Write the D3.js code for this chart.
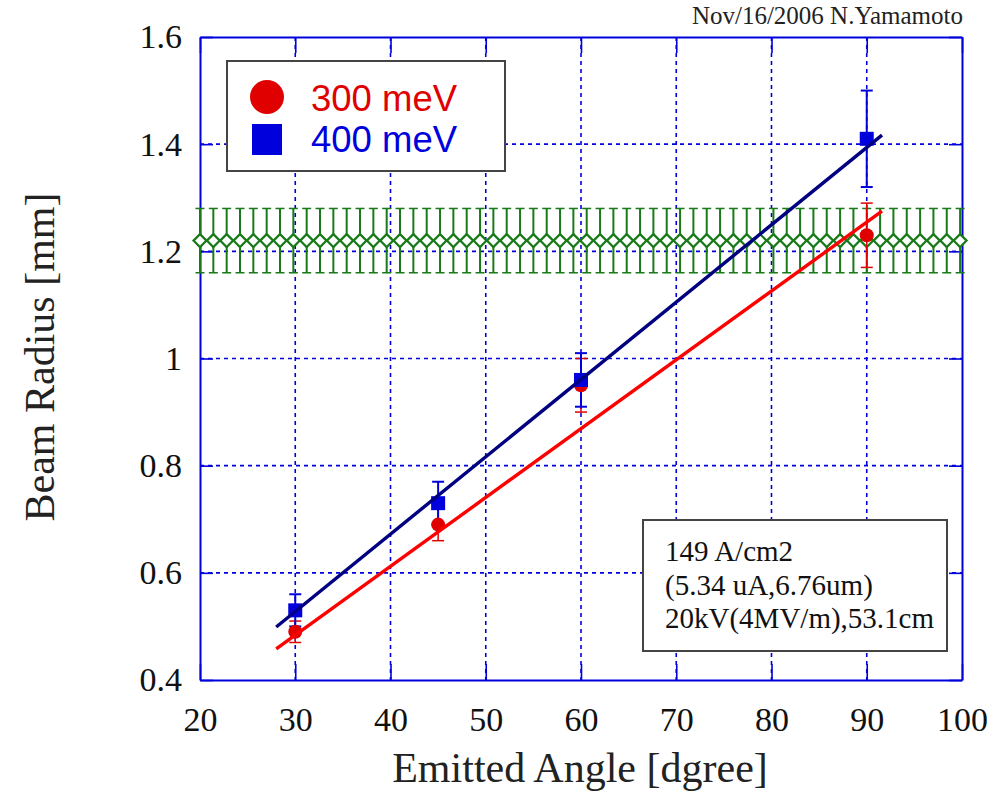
<!DOCTYPE html>
<html>
<head>
<meta charset="utf-8">
<script src="https://cdn.jsdelivr.net/npm/d3@7"></script>
<style>
  body { margin: 0; background: #fff; }
  text { font-family: "Liberation Serif", "Times New Roman", serif; }
</style>
</head>
<body>
<svg id="chart"></svg>
<script>
var width = 1005,
    height = 791

// 300 meV
var angles300 = [30, 45, 60, 90];
var radius300 = [0.49, 0.69, 0.95, 1.23];
var err300 = [0.02, 0.03, 0.05, 0.06];

// 400 meV
var angles400 = [30, 45, 60, 90];
var radius400 = [0.53, 0.73, 0.96, 1.41];
var err400 = [0.03, 0.04, 0.05, 0.09];

// fit lines (end points)
var fit300 = [[28, 0.458], [91.6, 1.275]];
var fit400 = [[28, 0.499], [91.6, 1.417]];

// green reference band
var refAngles = [20, 21.4, 22.8, 24.2, 25.6, 27, 28.4, 29.8, 31.2, 32.6, 34, 35.4, 36.8, 38.2,
    39.6, 41, 42.4, 43.8, 45.2, 46.6, 48, 49.4, 50.8, 52.2, 53.6, 55, 56.4, 57.8, 59.2, 60.6,
    62, 63.4, 64.8, 66.2, 67.6, 69, 70.4, 71.8, 73.2, 74.6, 76, 77.4, 78.8, 80.2, 81.6, 83,
    84.4, 85.8, 87.2, 88.6, 90, 91.4, 92.8, 94.2, 95.6, 97, 98.4, 99.8];
var refRadius = 1.22;
var refErr = 0.06;

var xTicks = [20, 30, 40, 50, 60, 70, 80, 90, 100];
var yTicks = [0.4, 0.6, 0.8, 1, 1.2, 1.4, 1.6];
var yTickLabels = ["0.4", "0.6", "0.8", "1", "1.2", "1.4", "1.6"];

var legendItems = ["300 meV", "400 meV"];
var noteLines = ["149 A/cm2", "(5.34 uA,6.76um)", "20kV(4MV/m),53.1cm"];

var blue = "#0000dd", red = "#e00000", green = "#187a18";

var svg = d3.select("svg#chart")
    .attr("width", width)
    .attr("height", height);

var x = d3.scaleLinear().domain([20, 100]).range([200, 962]);
var y = d3.scaleLinear().domain([0.4, 1.6]).range([680, 37]);

// grid
svg.append("g").selectAll("line")
    .data(xTicks.slice(1, -1))
    .enter().append("line")
    .attr("x1", function(d){ return x(d) }).attr("x2", function(d){ return x(d) })
    .attr("y1", y(1.6)).attr("y2", y(0.4))
    .attr("stroke", blue).attr("stroke-width", 1.6)
    .attr("stroke-dasharray", "4,4");

svg.append("g").selectAll("line")
    .data(yTicks.slice(1, -1))
    .enter().append("line")
    .attr("y1", function(d){ return y(d) }).attr("y2", function(d){ return y(d) })
    .attr("x1", x(20)).attr("x2", x(100))
    .attr("stroke", blue).attr("stroke-width", 1.6)
    .attr("stroke-dasharray", "4,4");

// axes
function styleAxis(g) {
    g.select(".domain").attr("stroke", blue).attr("stroke-width", 2);
    g.selectAll(".tick line").attr("stroke", blue).attr("stroke-width", 1.6);
    g.selectAll(".tick text").attr("fill", "#111").style("font-size", "34px")
        .style("font-family", "Liberation Serif, serif");
}

svg.append("g")
    .attr("transform", "translate(0," + y(0.4) + ")")
    .call(d3.axisBottom(x).tickValues(xTicks).tickSize(-16).tickSizeOuter(0).tickPadding(20))
    .call(styleAxis)
    .selectAll(".tick text").attr("dy", "0.9em");

svg.append("g")
    .attr("transform", "translate(0," + y(1.6) + ")")
    .call(d3.axisTop(x).tickValues(xTicks).tickSize(-16).tickSizeOuter(0).tickFormat(""))
    .call(styleAxis);

svg.append("g")
    .attr("transform", "translate(" + x(20) + ",0)")
    .call(d3.axisLeft(y).tickValues(yTicks).tickSize(-13).tickSizeOuter(0).tickPadding(18)
        .tickFormat(function(d, i){ return yTickLabels[i] }))
    .call(styleAxis);

svg.append("g")
    .attr("transform", "translate(" + x(100) + ",0)")
    .call(d3.axisRight(y).tickValues(yTicks).tickSize(-13).tickSizeOuter(0).tickFormat(""))
    .call(styleAxis);

// green reference band
var ref = svg.append("g").selectAll("g")
    .data(refAngles)
    .enter().append("g")
    .attr("transform", function(d){ return "translate(" + x(d) + ",0)" });

ref.append("line")
    .attr("y1", y(refRadius - refErr)).attr("y2", y(refRadius + refErr))
    .attr("stroke", green).attr("stroke-width", 2);
ref.append("line")
    .attr("x1", -4.5).attr("x2", 4.5)
    .attr("y1", y(refRadius + refErr)).attr("y2", y(refRadius + refErr))
    .attr("stroke", green).attr("stroke-width", 1.5);
ref.append("line")
    .attr("x1", -4.5).attr("x2", 4.5)
    .attr("y1", y(refRadius - refErr)).attr("y2", y(refRadius - refErr))
    .attr("stroke", green).attr("stroke-width", 1.5);
ref.append("path")
    .attr("d", function(){
        var c = y(refRadius);
        return "M-6.5," + c + "L0," + (c - 6.5) + "L6.5," + c + "L0," + (c + 6.5) + "Z";
    })
    .attr("fill", "#fff").attr("stroke", green).attr("stroke-width", 2.2);

// error bars + markers
function errorBars(angles, vals, errs, color, w) {
    var g = svg.append("g").selectAll("g")
        .data(angles)
        .enter().append("g")
        .attr("transform", function(d){ return "translate(" + x(d) + ",0)" });
    g.append("line")
        .attr("y1", function(d, i){ return y(vals[i] - errs[i]) })
        .attr("y2", function(d, i){ return y(vals[i] + errs[i]) })
        .attr("stroke", color).attr("stroke-width", w);
    g.append("line")
        .attr("x1", -6).attr("x2", 6)
        .attr("y1", function(d, i){ return y(vals[i] + errs[i]) })
        .attr("y2", function(d, i){ return y(vals[i] + errs[i]) })
        .attr("stroke", color).attr("stroke-width", w);
    g.append("line")
        .attr("x1", -6).attr("x2", 6)
        .attr("y1", function(d, i){ return y(vals[i] - errs[i]) })
        .attr("y2", function(d, i){ return y(vals[i] - errs[i]) })
        .attr("stroke", color).attr("stroke-width", w);
}

errorBars(angles300, radius300, err300, red, 1.5);
errorBars(angles400, radius400, err400, blue, 2);

svg.append("g").selectAll("circle")
    .data(angles300)
    .enter().append("circle")
    .attr("cx", function(d){ return x(d) })
    .attr("cy", function(d, i){ return y(radius300[i]) })
    .attr("r", 7)
    .attr("fill", red);

svg.append("g").selectAll("rect")
    .data(angles400)
    .enter().append("rect")
    .attr("x", function(d){ return x(d) - 7 })
    .attr("y", function(d, i){ return y(radius400[i]) - 7 })
    .attr("width", 14).attr("height", 14)
    .attr("fill", blue);

// fit lines
var line = d3.line()
    .x(function(d){ return x(d[0]) })
    .y(function(d){ return y(d[1]) });

svg.append("path").datum(fit300)
    .attr("d", line).attr("fill", "none")
    .attr("stroke", "#ff0000").attr("stroke-width", 3.4);

svg.append("path").datum(fit400)
    .attr("d", line).attr("fill", "none")
    .attr("stroke", "#000080").attr("stroke-width", 3.4);

// legend
var legend = svg.append("g");
legend.append("rect")
    .attr("x", 227).attr("y", 61).attr("width", 278).attr("height", 110)
    .attr("fill", "#fff").attr("stroke", "#444").attr("stroke-width", 2);
legend.append("circle")
    .attr("cx", 267).attr("cy", 97).attr("r", 17).attr("fill", red);
legend.append("rect")
    .attr("x", 252).attr("y", 124).attr("width", 30).attr("height", 31).attr("fill", blue);
legend.selectAll("text.leg")
    .data(legendItems)
    .enter().append("text")
    .attr("class", "leg")
    .attr("x", 311)
    .attr("y", function(d, i){ return 111 + i * 41 })
    .attr("textLength", 146)
    .attr("lengthAdjust", "spacingAndGlyphs")
    .style("font-family", "Liberation Sans, Arial, sans-serif")
    .style("font-size", "36px")
    .attr("fill", function(d, i){ return i == 0 ? red : blue })
    .text(function(d){ return d });

// note box
var note = svg.append("g");
note.append("rect")
    .attr("x", 643).attr("y", 520).attr("width", 304).attr("height", 131)
    .attr("fill", "#fff").attr("stroke", "#444").attr("stroke-width", 2);
note.selectAll("text")
    .data(noteLines)
    .enter().append("text")
    .attr("x", 665)
    .attr("y", function(d, i){ return 561 + i * 33.5 })
    .style("font-size", "29px")
    .attr("fill", "#111")
    .text(function(d){ return d });

// titles
svg.append("text")
    .attr("x", 963).attr("y", 24)
    .attr("text-anchor", "end")
    .style("font-size", "25px")
    .attr("fill", "#222")
    .text("Nov/16/2006 N.Yamamoto");

svg.append("text")
    .attr("x", 580).attr("y", 782)
    .attr("text-anchor", "middle")
    .style("font-size", "42px")
    .attr("fill", "#222")
    .text("Emitted Angle [dgree]");

svg.append("text")
    .attr("transform", "translate(54,357) rotate(-90)")
    .attr("text-anchor", "middle")
    .style("font-size", "42px")
    .attr("fill", "#222")
    .text("Beam Radius [mm]");
</script>
</body>
</html>
